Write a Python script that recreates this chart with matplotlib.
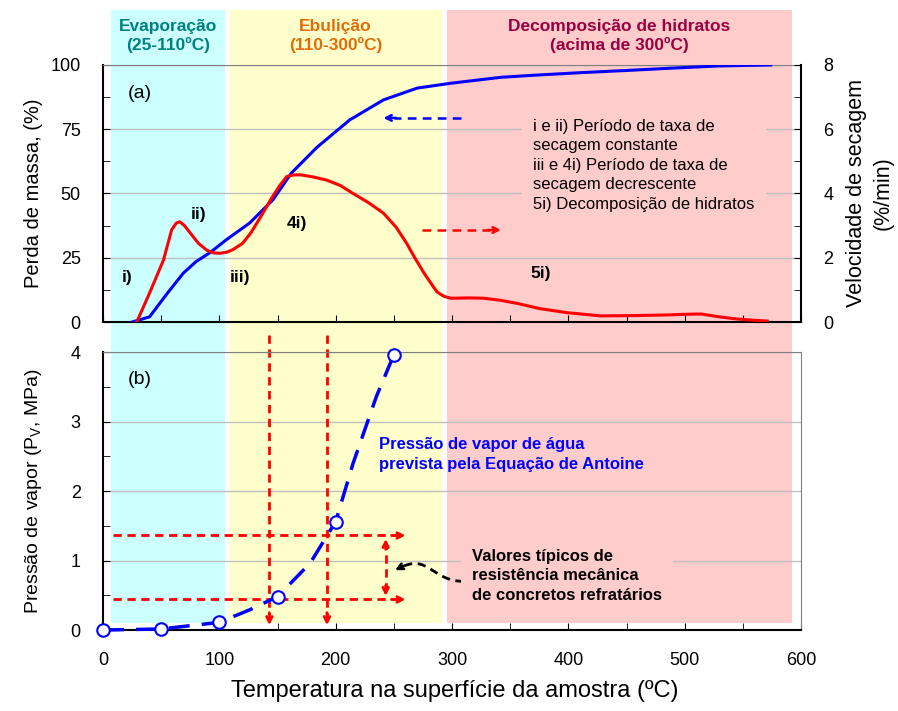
import matplotlib
matplotlib.use('Agg')
import matplotlib.pyplot as plt
import matplotlib.transforms as mtransforms
from matplotlib.patches import Rectangle, PathPatch
from matplotlib.path import Path

plt.rcParams['font.family'] = ['Liberation Sans', 'DejaVu Sans']
plt.rcParams['mathtext.default'] = 'regular'

# (a) perda de massa (%) - curva azul
massa_t = [25, 40, 55, 69, 80, 92, 106, 126, 146, 162, 184, 212, 241, 270, 299, 342, 370, 410, 456, 490, 528, 550, 574]
massa_p = [0, 2, 11, 19, 23.5, 27, 32, 38.5, 47.5, 58, 68, 78.6, 86.4, 91, 92.9, 95.2, 96, 97, 98, 98.8, 99.6, 99.8, 100]

# (a) velocidade de secagem (%/min) - curva vermelha
veloc_t = [29, 40, 52, 59, 63, 66, 70, 75, 82, 89, 95, 101, 107, 112, 120, 127, 136, 144, 152, 158, 164, 170, 180,
           192, 204, 215, 228, 241, 252, 261, 268, 276, 282, 287, 293, 299, 315, 327, 341, 356, 375, 399, 428, 456,
           485, 500, 514, 528, 543, 557, 571]
veloc_v = [0, 0.9, 1.93, 2.87, 3.08, 3.12, 3.0, 2.77, 2.45, 2.24, 2.15, 2.14, 2.18, 2.26, 2.45, 2.77, 3.3, 3.8, 4.25,
           4.53, 4.58, 4.58, 4.52, 4.42, 4.25, 4.0, 3.72, 3.39, 2.95, 2.45, 2.0, 1.52, 1.2, 0.94, 0.8, 0.74, 0.75,
           0.74, 0.68, 0.58, 0.42, 0.29, 0.19, 0.2, 0.22, 0.24, 0.25, 0.17, 0.1, 0.06, 0.03]

# (b) pressao de vapor (MPa)
pv_t = [0, 50, 100, 150, 200, 250]
pv_p = [0.0, 0.015, 0.11, 0.48, 1.56, 3.96]
pv_curva_t = [0, 50, 100, 126, 150, 178, 200, 215, 235, 250]
pv_curva_p = [0.0, 0.015, 0.11, 0.29, 0.48, 0.96, 1.56, 2.40, 3.36, 3.96]

# faixas de temperatura
faixas = [(6.5, 105, '#CCFFFF', 'Evaporação\n(25-110ºC)', '#008080'),
          (109, 291, '#FFFFCC', 'Ebulição\n(110-300ºC)', '#E36C09'),
          (296, 592, '#FFCCCC', 'Decomposição de hidratos\n(acima de 300ºC)', '#99003F')]

# resistencia mecanica (MPa) e temperaturas correspondentes
resist = [0.44, 1.36]
temp_resist = [143, 192.5]

fig = plt.figure(figsize=(8.98, 7.11), dpi=100)
ax_a = fig.add_axes([0.1147, 0.5471, 0.7773, 0.3615])
ax_r = ax_a.twinx()
ax_b = fig.add_axes([0.1147, 0.1139, 0.7773, 0.3910])
for ax in (ax_a, ax_b):
    ax.set_facecolor('none')

trans = mtransforms.blended_transform_factory(ax_b.transData, fig.transFigure)
for x0, x1, cor, nome, cor_txt in faixas:
    fig.add_artist(Rectangle((x0, 0.1238), x1 - x0, 0.986 - 0.1238, transform=trans,
                             facecolor=cor, edgecolor='none', zorder=-1))
    fig.text((x0 + x1) / 2, 0.949, nome, transform=trans, ha='center', va='center',
             fontsize=12.5, fontweight='bold', color=cor_txt, linespacing=1.2)

# ---------- (a) ----------
ax_a.set_xlim(0, 600)
ax_a.set_ylim(0, 100)
ax_r.set_ylim(0, 8)
ax_a.plot(massa_t, massa_p, color='#0000FF', lw=2.2, zorder=4)
ax_r.plot(veloc_t, veloc_v, color='#FF0000', lw=2.2, zorder=3)

ax_a.set_xticks(range(0, 601, 50))
ax_a.tick_params(axis='x', direction='in', length=5, labelbottom=False)
ax_a.set_yticks([0, 25, 50, 75, 100])
ax_a.set_yticks([12.5, 37.5, 62.5, 87.5], minor=True)
ax_a.tick_params(axis='y', which='both', direction='in', length=5, labelsize=13, pad=16)
ax_r.set_yticks([0, 2, 4, 6, 8])
ax_r.set_yticks([1, 3, 5, 7], minor=True)
ax_r.tick_params(axis='y', which='both', direction='in', length=5, labelsize=13, pad=16)
ax_a.yaxis.grid(True, color='#BFBFBF', lw=1)
ax_a.set_axisbelow(True)

ax_a.spines['top'].set_color('#808080')
ax_a.spines['right'].set_visible(False)
for s in ('top', 'left', 'bottom'):
    ax_r.spines[s].set_visible(False)
for s in ('left', 'bottom'):
    ax_a.spines[s].set_linewidth(1.5)
ax_r.spines['right'].set_linewidth(1.5)

ax_a.set_ylabel('Perda de massa, (%)', fontsize=14.5, va='center')
ax_a.yaxis.set_label_coords(-0.1, 0.5)
ax_r.set_ylabel('Velocidade de secagem\n(%/min)', fontsize=15.5, rotation=90, va='center',
                ha='center', linespacing=1.35)
ax_r.yaxis.set_label_coords(1.098, 0.5)

ax_a.text(32, 89, '(a)', fontsize=14, ha='center', va='center')
for x, y, s in [(20.6, 17.5, 'i)'), (82, 42, 'ii)'), (118, 17.5, 'iii)'), (167, 38.5, '4i)'), (376, 19, '5i)')]:
    ax_a.text(x, y, s, fontsize=12.5, fontweight='bold', ha='center', va='center')

ax_a.text(370, 61, 'i e ii) Período de taxa de\nsecagem constante\niii e 4i) Período de taxa de\n'
          'secagem decrescente\n5i) Decomposição de hidratos', fontsize=12, ha='left', va='center',
          linespacing=1.38, zorder=3,
          bbox=dict(facecolor='#FFCCCC', edgecolor='none', pad=8))

ax_a.plot([308, 250], [79.4, 79.4], color='#0000FF', lw=1.8, ls=(0, (3.5, 2.5)))
ax_a.annotate('', xy=(241, 79.4), xytext=(252, 79.4),
              arrowprops=dict(arrowstyle='->', color='#0000FF', lw=1.8, shrinkA=0, shrinkB=0))
ax_a.plot([274, 333], [35.8, 35.8], color='#FF0000', lw=1.8, ls=(0, (3.5, 2.5)))
ax_a.annotate('', xy=(342, 35.8), xytext=(331, 35.8),
              arrowprops=dict(arrowstyle='->', color='#FF0000', lw=1.8, shrinkA=0, shrinkB=0))

# ---------- (b) ----------
ax_b.set_xlim(0, 600)
ax_b.set_ylim(0, 4)
ax_b.plot(pv_curva_t, pv_curva_p, color='#0000FF', lw=2.5, ls=(0, (6, 3.5)), zorder=4, clip_on=False)
ax_b.plot(pv_t, pv_p, ls='none', marker='o', ms=9, mfc='white', mec='#0000FF', mew=1.5,
          zorder=5, clip_on=False)

ax_b.set_xticks(range(0, 601, 100))
ax_b.set_xticks(range(50, 600, 100), minor=True)
ax_b.set_yticks([0, 1, 2, 3, 4])
ax_b.set_yticks([0.5, 1.5, 2.5, 3.5], minor=True)
ax_b.tick_params(which='both', direction='in', length=5, labelsize=13, pad=16)
ax_b.yaxis.grid(True, color='#BFBFBF', lw=1)
ax_b.set_axisbelow(True)
ax_b.spines['top'].set_color('#808080')
ax_b.spines['right'].set_color('#808080')
for s in ('left', 'bottom'):
    ax_b.spines[s].set_linewidth(1.5)

ax_b.set_ylabel('Pressão de vapor (P$_V$, MPa)', fontsize=14, va='center')
ax_b.yaxis.set_label_coords(-0.1, 0.5)
ax_b.set_xlabel('Temperatura na superfície da amostra (ºC)', fontsize=17)
ax_b.xaxis.set_label_coords(0.504, -0.18)

ax_b.text(32, 3.61, '(b)', fontsize=14, ha='center', va='center')
ax_b.text(237, 2.52, 'Pressão de vapor de água\nprevista pela Equação de Antoine', color='#0000FF',
          fontsize=12, fontweight='bold', ha='left', va='center', linespacing=1.4)
ax_b.text(317, 0.78, 'Valores típicos de\nresistência mecânica\nde concretos refratários',
          fontsize=12, fontweight='bold', ha='left', va='center', linespacing=1.38, zorder=3,
          bbox=dict(facecolor='#FFCCCC', edgecolor='none', pad=8))

ls_red = (0, (3, 2))
for p in resist:
    ax_b.plot([8.6, 252], [p, p], color='#FF0000', lw=2, ls=ls_red)
    ax_b.annotate('', xy=(260, p), xytext=(248, p),
                  arrowprops=dict(arrowstyle='->', color='#FF0000', lw=2, shrinkA=0, shrinkB=0))
for t in temp_resist:
    ax_b.plot([t, t], [4.24, 0.15], color='#FF0000', lw=2, ls=ls_red, clip_on=False)
    ax_b.annotate('', xy=(t, 0.07), xytext=(t, 0.25),
                  arrowprops=dict(arrowstyle='->', color='#FF0000', lw=2, shrinkA=0, shrinkB=0))
ax_b.plot([243, 243], [resist[0] + 0.12, resist[1] - 0.12], color='#FF0000', lw=2, ls=ls_red)
ax_b.annotate('', xy=(243, resist[1] - 0.05), xytext=(243, resist[1] - 0.2),
              arrowprops=dict(arrowstyle='->', color='#FF0000', lw=2, shrinkA=0, shrinkB=0))
ax_b.annotate('', xy=(243, resist[0] + 0.05), xytext=(243, resist[0] + 0.2),
              arrowprops=dict(arrowstyle='->', color='#FF0000', lw=2, shrinkA=0, shrinkB=0))

# seta curva preta tracejada
seta = Path([(310, 0.70), (282, 0.70), (280, 1.12), (254, 0.885)],
            [Path.MOVETO, Path.CURVE4, Path.CURVE4, Path.CURVE4])
ax_b.add_patch(PathPatch(seta, facecolor='none', edgecolor='black', lw=2, ls=(0, (3, 2))))
ax_b.annotate('', xy=(251, 0.86), xytext=(258, 0.92),
              arrowprops=dict(arrowstyle='->', color='black', lw=2, shrinkA=0, shrinkB=0))

fig.savefig('out.png', dpi=100)
